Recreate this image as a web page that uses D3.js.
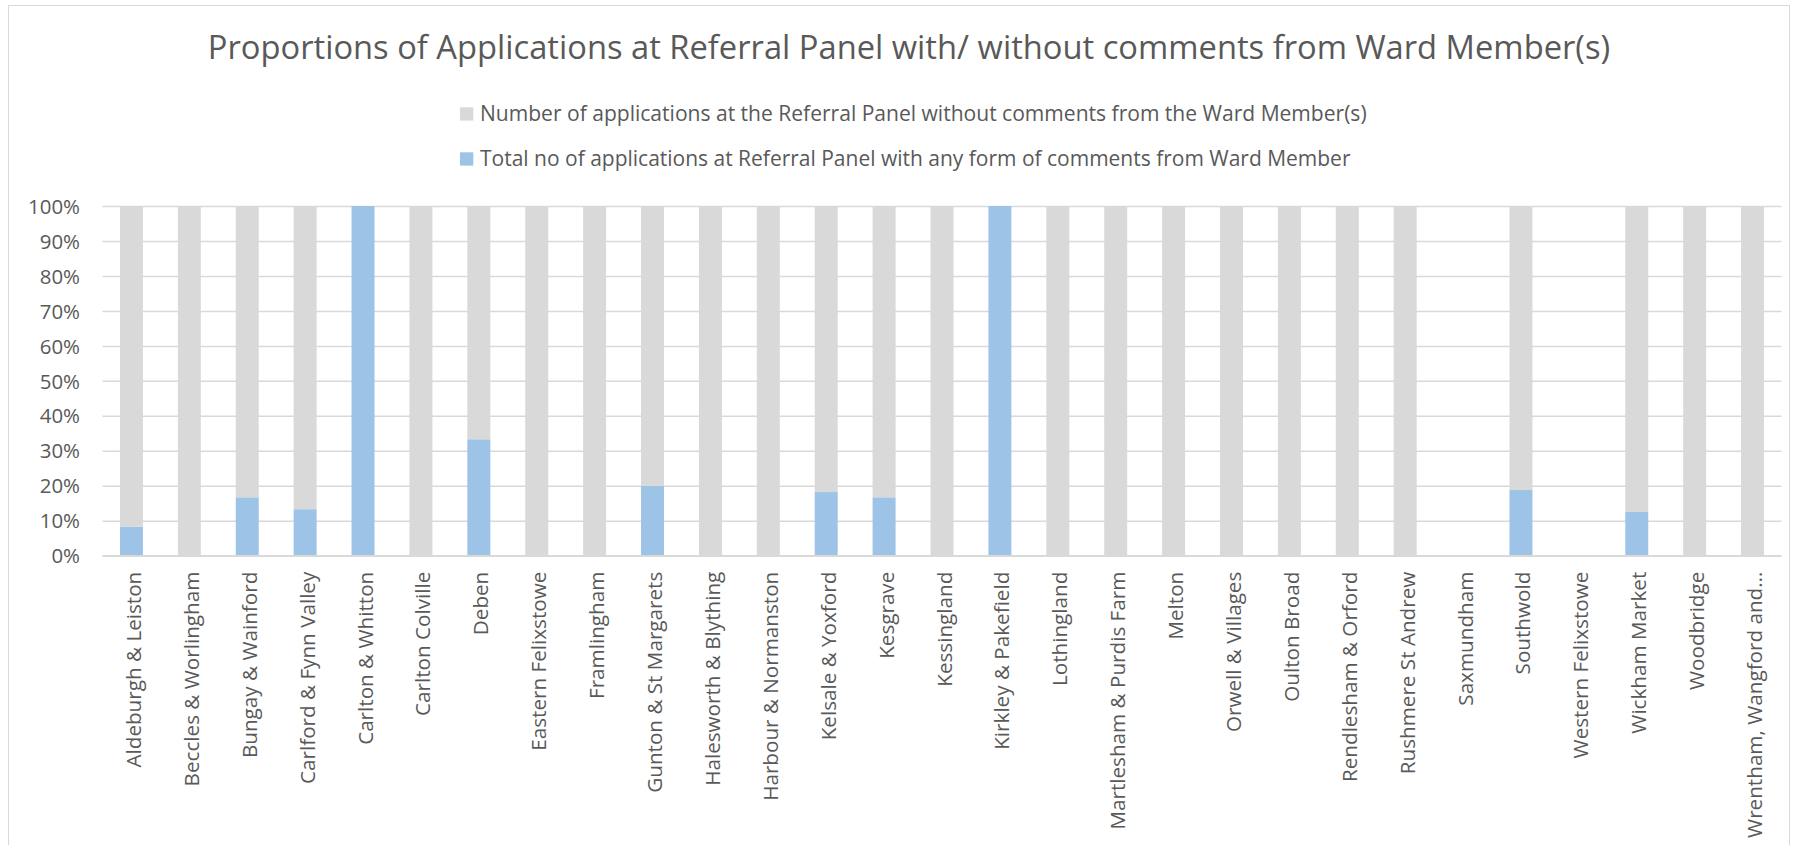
<!DOCTYPE html>
<html><head><meta charset="utf-8">
<script src="https://cdn.jsdelivr.net/npm/d3@7/dist/d3.min.js"></script>
<style>body{margin:0;background:#fff}svg{display:block}</style>
</head><body><svg id="c" width="1798" height="845"></svg>
<script>
const categories = ["Aldeburgh & Leiston","Beccles & Worlingham","Bungay & Wainford","Carlford & Fynn Valley","Carlton & Whitton","Carlton Colville","Deben","Eastern Felixstowe","Framlingham","Gunton & St Margarets","Halesworth & Blything","Harbour & Normanston","Kelsale & Yoxford","Kesgrave","Kessingland","Kirkley & Pakefield","Lothingland","Martlesham & Purdis Farm","Melton","Orwell & Villages","Oulton Broad","Rendlesham & Orford","Rushmere St Andrew","Saxmundham","Southwold","Western Felixstowe","Wickham Market","Woodbridge","Wrentham, Wangford and…"];
// share (%) with comments from Ward Member
const withComments = [8.3,0,16.7,13.3,100,0,33.3,0,0,20,0,0,18.2,16.7,0,100,0,0,0,0,0,0,0,0,18.8,0,12.5,0,0];
// share (%) without comments
const withoutComments = [91.7,100,83.3,86.7,0,100,66.7,100,100,80,100,100,81.8,83.3,100,0,100,100,100,100,100,100,100,0,81.2,0,87.5,100,100];
const yTicks = [0,0.1,0.2,0.3,0.4,0.5,0.6,0.7,0.8,0.9,1];
const seriesNames = ["Number of applications at the Referral Panel without comments from the Ward Member(s)","Total no of applications at Referral Panel with any form of comments from Ward Member"];
const titleText = "Proportions of Applications at Referral Panel with/ without comments from Ward Member(s)";

const W = 1798, H = 845;
const TXT = "#595959", GRID = "#d9d9d9", GREY = "#d9d9d9", BLUE = "#9dc3e6";
const FONT = "'Open Sans', 'Noto Sans', sans-serif";
const svg = d3.select("#c");

// outer chart border
svg.append("rect").attr("x",8.5).attr("y",5.5).attr("width",1781).attr("height",H+10)
  .attr("fill","#fff").attr("stroke","#d9d9d9").attr("stroke-width",1);

const x = d3.scaleBand().domain(categories).range([102.5,1781.5]).paddingInner(0.603).paddingOuter(0.3015);
const y = d3.scaleLinear().domain([0,1]).range([555.7,206]);

function fit(sel, target){
  const w = sel.node().getComputedTextLength();
  const fs = parseFloat(sel.attr("font-size"));
  sel.attr("font-size", fs*target/w);
}

// grid
const grid = svg.append("g").attr("transform","translate(0,0)")
  .call(d3.axisLeft(y).tickValues(yTicks).tickSize(-(1781.5-102.5)).tickFormat(""))
  .attr("transform","translate(102.5,0)");
grid.select(".domain").remove();
grid.selectAll("line").attr("stroke",GRID).attr("stroke-width",1.5);

// y labels
const yAxis = svg.append("g").attr("transform","translate(80,0)")
  .call(d3.axisLeft(y).tickValues(yTicks).tickSize(0).tickPadding(0).tickFormat(d3.format(".0%")));
yAxis.select(".domain").remove();
yAxis.selectAll("text").attr("font-family",FONT).attr("fill",TXT).attr("font-size",20).attr("dy","0.35em");
{
  const t = yAxis.selectAll("text").filter(d=>d===1);
  const w = t.node().getComputedTextLength();
  yAxis.selectAll("text").attr("font-size", 20*52/w);
}

// stacked bars
const rows = categories.map((c,i)=>({c, w:withComments[i]/100, wo:withoutComments[i]/100}));
const stack = d3.stack().keys(["w","wo"])(rows);
const colors = {w:BLUE, wo:GREY};
svg.append("g").selectAll("g").data(stack).join("g").attr("fill",d=>colors[d.key])
  .selectAll("rect").data(d=>d).join("rect")
  .attr("x",d=>x(d.data.c)).attr("width",x.bandwidth())
  .attr("y",d=>y(d[1])).attr("height",d=>Math.max(0,y(d[0])-y(d[1])));

// x axis baseline
svg.append("line").attr("x1",102.5).attr("x2",1781.5).attr("y1",y(0)).attr("y2",y(0))
  .attr("stroke",GRID).attr("stroke-width",1.5);

// x labels
const xAxis = svg.append("g").attr("transform",`translate(0,${y(0)})`)
  .call(d3.axisBottom(x).tickSize(0).tickPadding(0));
xAxis.select(".domain").remove();
xAxis.selectAll("text").attr("font-family",FONT).attr("fill",TXT).attr("font-size",18)
  .attr("text-anchor","end").attr("dy",null)
  .attr("transform","translate(9.5,16) rotate(-90)");
{
  const t = xAxis.selectAll("text").filter(d=>d===categories[0]);
  const w = t.node().getComputedTextLength();
  xAxis.selectAll("text").attr("font-size", 18*196/w);
}

// title
const title = svg.append("text").attr("x",909).attr("y",59.3).attr("text-anchor","middle")
  .attr("font-family",FONT).attr("font-size",32).attr("fill",TXT).text(titleText);
fit(title, 1403);

// legend
const legY = [114, 159];
const leg = svg.append("g");
seriesNames.forEach((s,i)=>{
  leg.append("rect").attr("x",460).attr("y",legY[i]-6.7).attr("width",13.3).attr("height",13.3)
    .attr("fill", i===0?GREY:BLUE);
  const t = leg.append("text").attr("x",480).attr("y",legY[i]+6.7).attr("font-family",FONT)
    .attr("font-size",21).attr("fill",TXT).text(s);
  fit(t, i===0?887:871);
});
</script>
</body></html>
